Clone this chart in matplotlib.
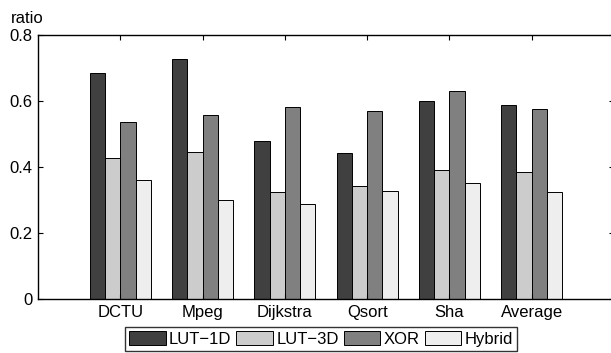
import numpy as np
import matplotlib
matplotlib.use("Agg")
import matplotlib.pyplot as plt

plt.rcParams['font.family'] = ['Liberation Sans', 'DejaVu Sans']

# values
benchmarks = ['DCTU', 'Mpeg', 'Dijkstra', 'Qsort', 'Sha', 'Average']
lut1d  = [0.684, 0.728, 0.480, 0.443, 0.601, 0.587]
lut3d  = [0.427, 0.444, 0.325, 0.343, 0.391, 0.385]
xor    = [0.535, 0.559, 0.582, 0.571, 0.630, 0.576]
hybrid = [0.360, 0.301, 0.287, 0.328, 0.352, 0.325]

series = [lut1d, lut3d, xor, hybrid]
names = ['LUT\u22121D', 'LUT\u22123D', 'XOR', 'Hybrid']
colors = ['#404040', '#cccccc', '#808080', '#eeeeee']

fig = plt.figure(figsize=(6.11, 3.53), dpi=100)
ax = fig.add_axes([38/611, 54/353, 576/611, 264/353])

x = np.arange(1, len(benchmarks) + 1)
w = 0.185
for i, (vals, name, c) in enumerate(zip(series, names, colors)):
    ax.bar(x + (i - 1.5) * w, vals, w, color=c, edgecolor='black',
           linewidth=0.7, label=name)

ax.set_xlim(0, 7)
ax.set_ylim(0, 0.8)
ax.set_yticks([0, 0.2, 0.4, 0.6, 0.8])
ax.set_yticklabels(['0', '0.2', '0.4', '0.6', '0.8'])
ax.set_xticks(x)
ax.set_xticklabels(benchmarks)
ax.tick_params(direction='in', length=3.5, width=0.8, top=True, right=True,
               labelsize=12, pad=4)
for s in ax.spines.values():
    s.set_linewidth(1.0)

fig.text(11/611, 1 - 23/353, 'ratio', fontsize=12, ha='left', va='baseline')

leg = fig.legend(loc='upper center', bbox_to_anchor=(321/611, 1 - 327/353),
                 ncol=4, fontsize=12, frameon=True, fancybox=False,
                 handlelength=2.2, handleheight=0.9, handletextpad=0.2,
                 columnspacing=0.3, borderpad=0.25, borderaxespad=0)
leg.get_frame().set_edgecolor('black')
leg.get_frame().set_linewidth(1.0)

fig.savefig('out.png', dpi=100)
